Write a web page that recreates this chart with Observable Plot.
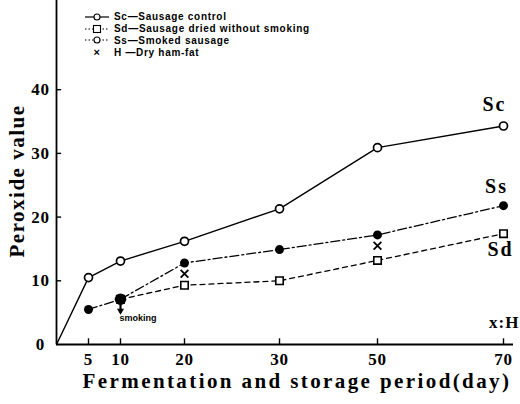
<!DOCTYPE html>
<html><head><meta charset="utf-8">
<script src="https://cdn.jsdelivr.net/npm/d3@7"></script>
<script src="https://cdn.jsdelivr.net/npm/@observablehq/plot@0.6"></script>
<style>
body{margin:0;background:#fff;}
#wrap{position:relative;width:520px;height:404px;overflow:hidden;}
#legend{position:absolute;left:84px;top:11px;font:bold 10px "Liberation Sans",Arial,sans-serif;color:#000;letter-spacing:0.7px;}
#legend .row{display:flex;align-items:center;height:11.8px;white-space:nowrap;}
#legend svg{margin-right:4px;}
#ytitle{position:absolute;left:17px;top:181px;transform:translate(-50%,-50%) rotate(-90deg);font:bold 21px "Liberation Serif",serif;letter-spacing:1.5px;white-space:nowrap;color:#000;}
</style></head><body>
<div id="wrap"><div id="chart"></div><div id="legend"></div><div id="ytitle"></div></div>
<script>
// ---- data ----
const tickDays = [5, 10, 20, 30, 50, 70];
const yTicks = [0, 10, 20, 30, 40];

const scDays = [0, 5, 10, 20, 30, 50, 70];
const scValues = [0, 10.5, 13.1, 16.2, 21.3, 30.9, 34.3];

const ssDays = [5, 10, 20, 30, 50, 70];
const ssValues = [5.5, 7.1, 12.8, 14.9, 17.2, 21.8];

const sdDays = [10, 20, 30, 50, 70];
const sdValues = [7.1, 9.3, 10.0, 13.2, 17.4];

const hDays = [20, 50];
const hValues = [11.1, 15.5];

const seriesNames = ["Sc", "Ss", "Sd"];
const legendLabels = [
  "Sc\u2014Sausage control",
  "Sd\u2014Sausage dried without smoking",
  "Ss\u2014Smoked sausage",
  "H \u2014Dry ham-fat"
];
const smokingLabel = "smoking";
const smokingDay = 10;
const hLabel = "x:H";
const xTitle = "Fermentation and storage period(day)";
const yTitle = "Peroxide value";

// ---- tables ----
const sc = scDays.map((d, i) => ({day: d, v: scValues[i]}));
const ss = ssDays.map((d, i) => ({day: d, v: ssValues[i]}));
const sd = sdDays.map((d, i) => ({day: d, v: sdValues[i]}));
const h = hDays.map((d, i) => ({day: d, v: hValues[i]}));
const scDots = sc.filter(d => d.day > 0);
const ssSmoke = ss.filter(d => d.day === smokingDay);
const ssOther = ss.filter(d => d.day !== smokingDay);
const last = a => [a[a.length - 1]];

const serif = "'Liberation Serif','DejaVu Serif',serif";
const sans = "'Liberation Sans',Arial,sans-serif";

const chart = Plot.plot({
  width: 520, height: 404,
  marginTop: 0, marginBottom: 60, marginLeft: 56, marginRight: 7,
  style: {fontFamily: serif, fontWeight: "bold", fontSize: "17px", color: "#000", background: "#fff", overflow: "visible"},
  x: {type: "linear", domain: [0, 5, 10, 20, 30, 50, 70], range: [56, 88, 120, 184, 279, 377, 503]},
  y: {domain: [0, 54], range: [344, 0]},
  marks: [
    Plot.ruleY([0], {stroke: "#000", strokeWidth: 1.8}),
    Plot.ruleX([0], {stroke: "#000", strokeWidth: 1.8}),
    Plot.ruleX(tickDays, {x: d => d, y1: 0, y2: 0.9, stroke: "#000", strokeWidth: 1.4}),
    Plot.ruleY(yTicks.slice(1), {y: d => d, x1: 0, x2: 0.8, stroke: "#000", strokeWidth: 1.4}),
    Plot.axisX(tickDays, {tickSize: 0, tickPadding: 8, fontSize: 17, label: null, tickFormat: d => String(d)}),
    Plot.axisY(yTicks, {tickSize: 0, tickPadding: 16, textAnchor: "middle", fontSize: 17, label: null, tickFormat: d => String(d)}),
    // lines
    Plot.line(sc, {x: "day", y: "v", stroke: "#000", strokeWidth: 1.4}),
    Plot.line(ss, {x: "day", y: "v", stroke: "#000", strokeWidth: 1.3, strokeDasharray: "9,3,2,3"}),
    Plot.line(sd, {x: "day", y: "v", stroke: "#000", strokeWidth: 1.3, strokeDasharray: "5,4"}),
    // smoking arrow
    Plot.ruleX(ssSmoke, {x: "day", y1: 4.9, y2: "v", stroke: "#000", strokeWidth: 2.2}),
    Plot.dot([{day: smokingDay, v: 5.3}], {x: "day", y: "v", symbol: "triangle", rotate: 180, r: 2.6, fill: "#000"}),
    Plot.text([{day: smokingDay, v: 4.2, t: smokingLabel}], {x: "day", y: "v", text: "t", textAnchor: "start", dx: -1, fontSize: 9, fontFamily: sans, fontWeight: "bold"}),
    // markers
    Plot.dot(sd, {x: "day", y: "v", symbol: "square", r: 4.2, fill: "#fff", stroke: "#000", strokeWidth: 1.6}),
    Plot.dot(ssOther, {x: "day", y: "v", r: 4.5, fill: "#000"}),
    Plot.dot(ssSmoke, {x: "day", y: "v", r: 5.8, fill: "#000"}),
    Plot.dot(scDots, {x: "day", y: "v", r: 4, fill: "#fff", stroke: "#000", strokeWidth: 1.7}),
    Plot.dot(h, {x: "day", y: "v", symbol: "times", r: 3.6, stroke: "#000", strokeWidth: 1.8}),
    // series labels
    Plot.text(last(sc), {x: "day", y: "v", text: () => seriesNames[0], dx: -9, dy: -21, fontSize: 20}),
    Plot.text(last(ss), {x: "day", y: "v", text: () => seriesNames[1], dx: -7, dy: -19, fontSize: 20}),
    Plot.text(last(sd), {x: "day", y: "v", text: () => seriesNames[2], dx: -3, dy: 16, fontSize: 20}),
    Plot.text([{day: 70, v: 0, t: hLabel}], {x: "day", y: "v", text: "t", dx: 16, dy: -22, fontSize: 17, textAnchor: "end"}),
    // x title
    Plot.text([xTitle], {frameAnchor: "bottom", dy: 43, dx: 12, fontSize: 21})
  ]
});
document.getElementById("chart").appendChild(chart);
document.getElementById("ytitle").textContent = yTitle;

// letter spacing to mimic the wide typeset lettering
const spacing = new Map([[xTitle, "2.4px"], [seriesNames[0], "2px"], [seriesNames[1], "2px"], [seriesNames[2], "2px"], [hLabel, "1px"]]);
d3.select(chart).selectAll("text").each(function() {
  const t = this.textContent;
  if (spacing.has(t)) this.style.letterSpacing = spacing.get(t);
  else if (/^\d+$/.test(t)) this.style.letterSpacing = "0.8px";
});

// ---- legend (HTML overlay) ----
const legendStyles = [
  {dash: null, sym: "circle"},
  {dash: "1.5,2", sym: "square"},
  {dash: "1.5,2", sym: "circle"},
  {dash: null, sym: "times", noLine: true}
];
const lg = d3.select("#legend");
legendLabels.forEach((lab, i) => {
  const st = legendStyles[i];
  const row = lg.append("div").attr("class", "row");
  const s = row.append("svg").attr("width", 26).attr("height", 10);
  if (!st.noLine) {
    s.append("line").attr("x1", 1).attr("x2", 25).attr("y1", 5).attr("y2", 5)
      .attr("stroke", "#000").attr("stroke-width", 1.2).attr("stroke-dasharray", st.dash);
  }
  if (st.sym === "circle") s.append("circle").attr("cx", 13).attr("cy", 5).attr("r", 3).attr("fill", "#fff").attr("stroke", "#000").attr("stroke-width", 1.1);
  if (st.sym === "square") s.append("rect").attr("x", 9.5).attr("y", 1.5).attr("width", 7).attr("height", 7).attr("fill", "#fff").attr("stroke", "#000").attr("stroke-width", 1.1);
  if (st.sym === "times") s.append("text").attr("x", 13).attr("y", 8.5).attr("text-anchor", "middle").attr("font-size", 11).attr("font-weight", "bold").text("\u00d7");
  row.append("span").text(lab);
});
</script>
</body></html>
